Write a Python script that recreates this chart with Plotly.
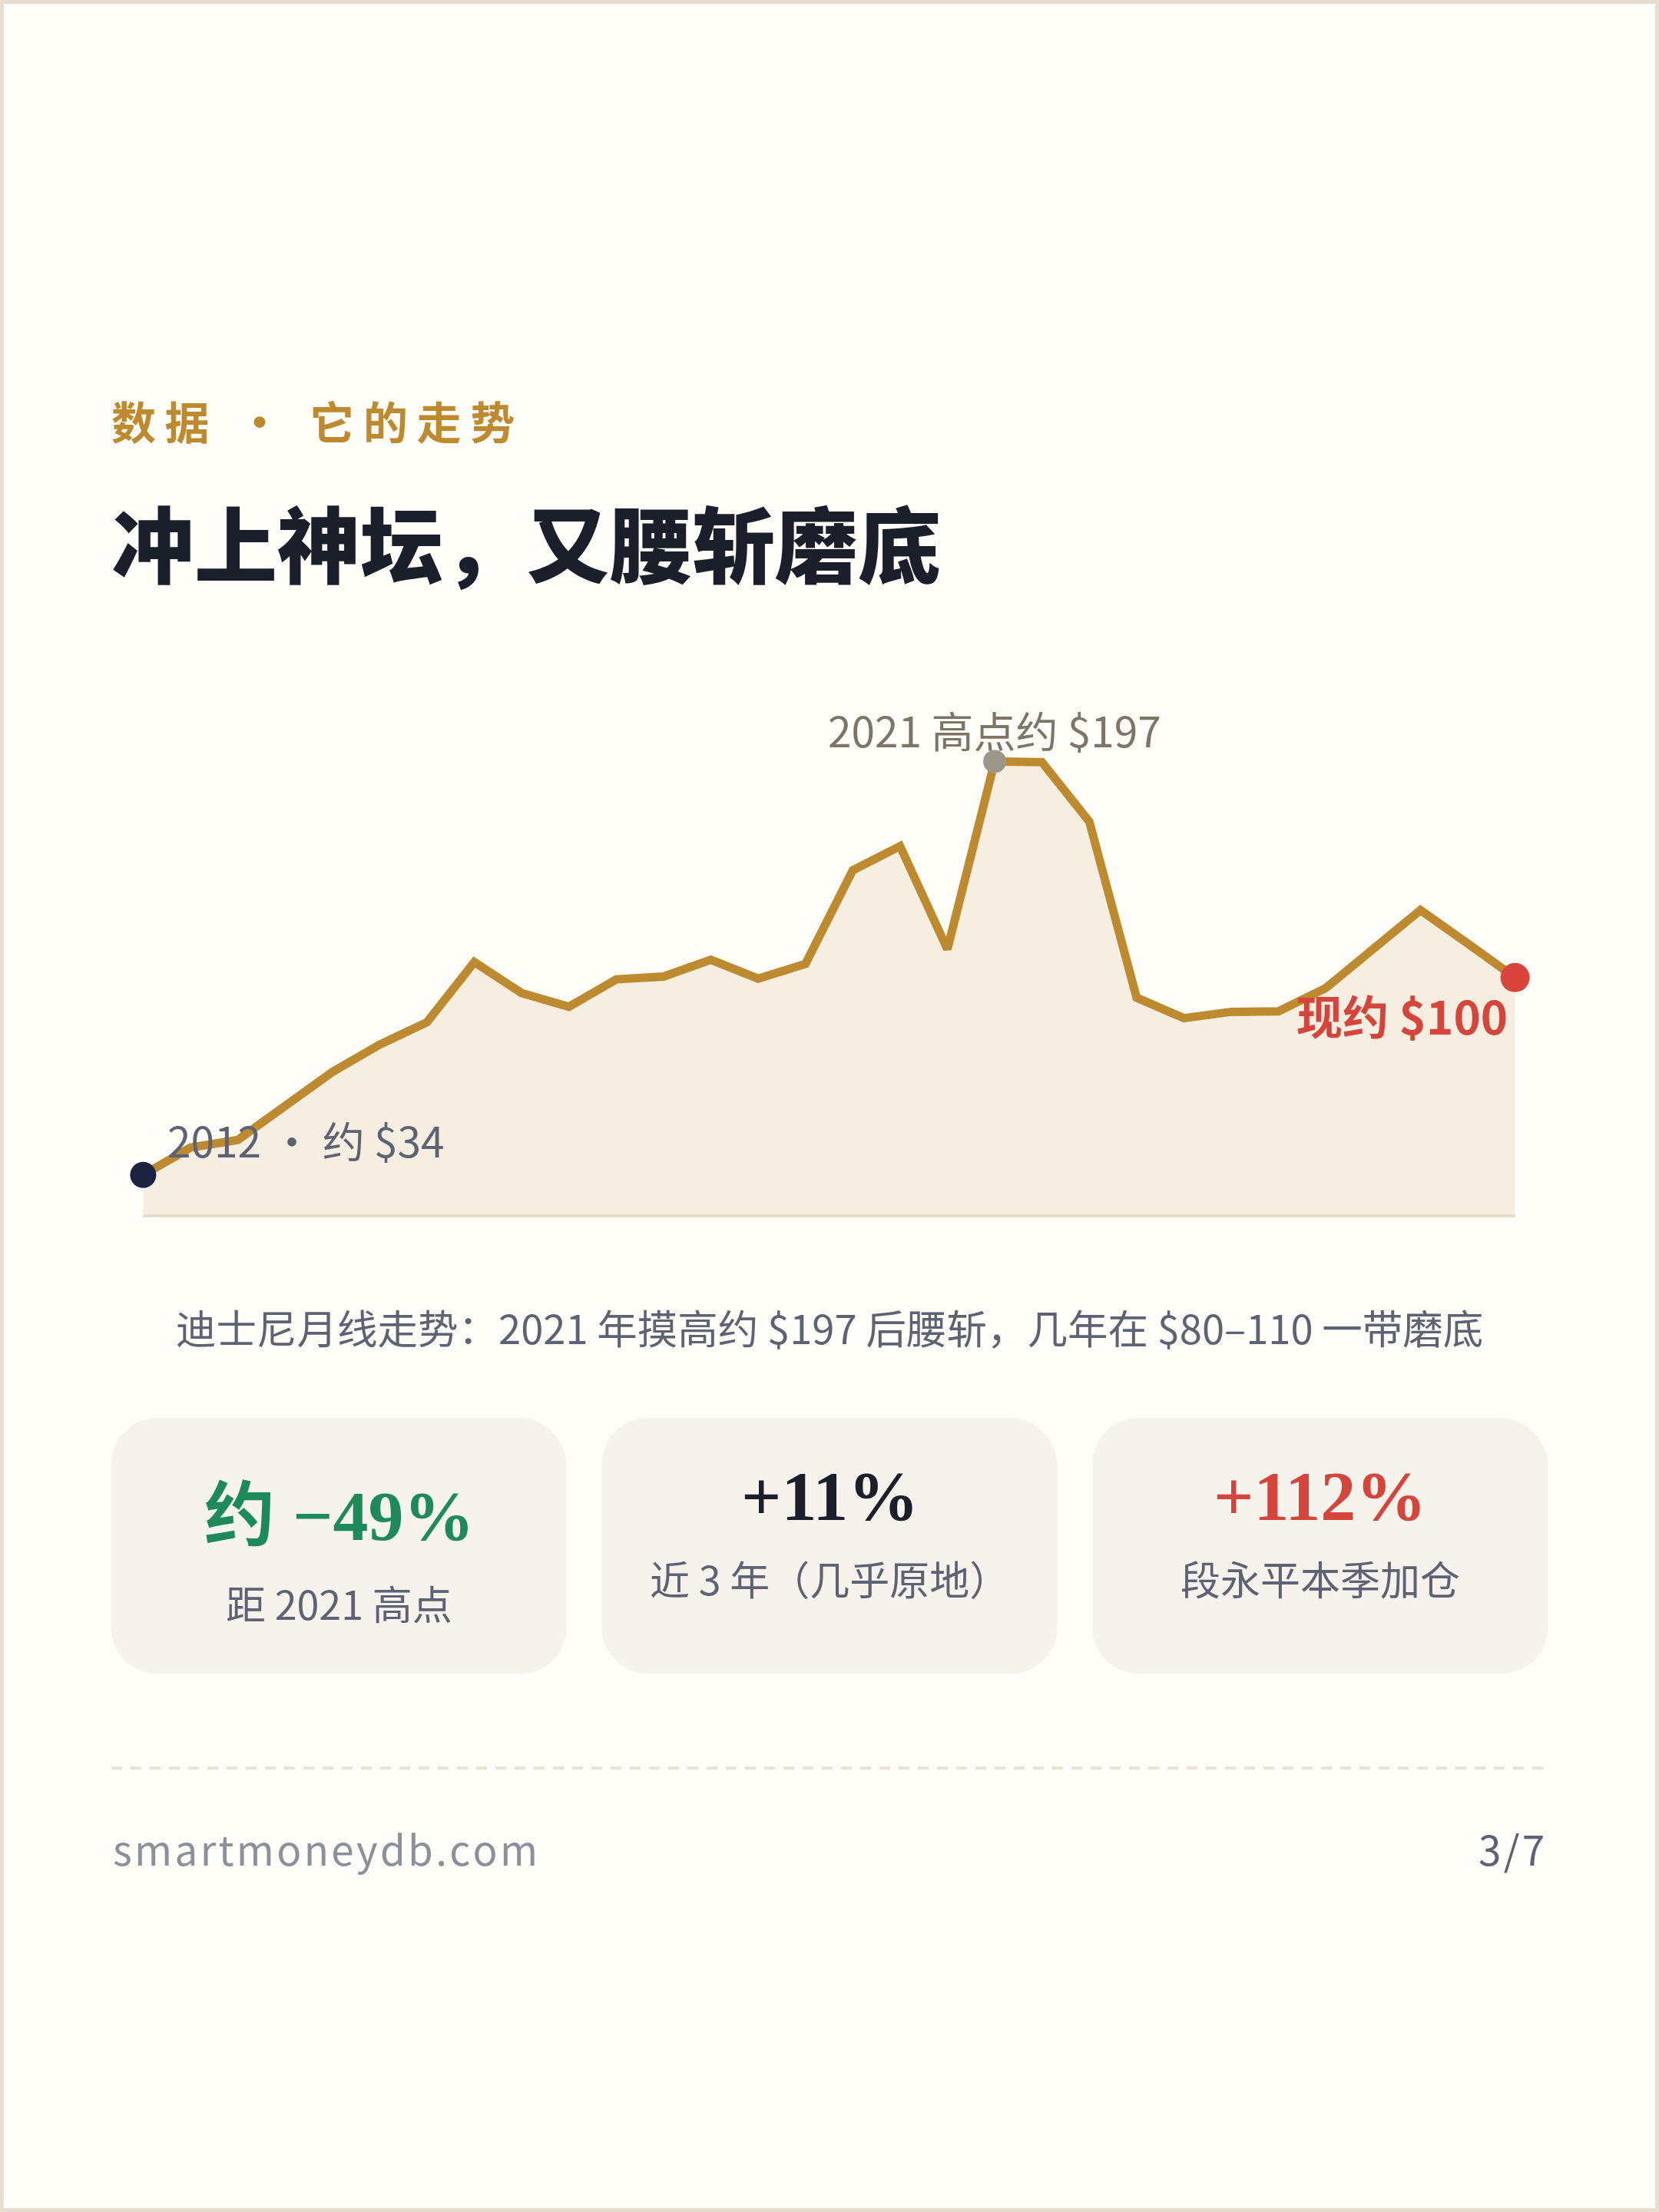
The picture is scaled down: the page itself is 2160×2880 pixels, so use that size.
import plotly.graph_objects as go

W, H = 2160, 2880

# half-year closes
periods = [f"{y}H{h}" for y in range(2012, 2027) for h in (1, 2)]
prices = [34, 44.8, 47.8, 61.1, 74.6, 85.4, 94.2, 117.9, 105.7, 100.3,
          111.1, 112.2, 118.8, 111.4, 117.2, 154.1, 163.6, 123.0, 197, 196.7,
          173.3, 103.9, 95.8, 98.3, 98.5, 107.7, 123.1, 138.4, 125.2, 111.8]

start_idx, peak_idx, end_idx = 0, 18, len(prices) - 1
start_label = "2012 · 约 $34"
peak_label = "2021 高点约 $197"
end_label = "现约 $100"

card_values = ["约 −49%", "+11%", "+112%"]
card_notes = ["距 2021 高点", "近 3 年（几乎原地）", "段永平本季加仓"]

kicker_left = "数据"
kicker_right = "它的走势"
title = "冲上神坛，又腰斩磨底"
caption = "迪士尼月线走势：2021 年摸高约 $197 后腰斩，几年在 $80–110 一带磨底"
site = "smartmoneydb.com"
page = "3/7"

SANS = "Noto Sans CJK SC"
SERIF = "Liberation Serif, Noto Sans CJK SC"
GOLD = "#bd8a30"
INK = "#1b1f2a"
SLATE = "#5d6373"
RED = "#d4453b"
GREEN = "#1e8a5c"


def px(x):
    return x / W


def py(y):
    return 1 - y / H


def rounded(x0, y0, x1, y1, r):
    L, R, T, B = px(x0), px(x1), py(y0), py(y1)
    rx, ry = r / W, r / H
    k = 0.45
    return (f"M{L+rx},{T} L{R-rx},{T} C{R-rx*k},{T} {R},{T-ry*(1-k)} {R},{T-ry} "
            f"L{R},{B+ry} C{R},{B+ry*k} {R-rx*k},{B} {R-rx},{B} "
            f"L{L+rx},{B} C{L+rx*k},{B} {L},{B+ry*k} {L},{B+ry} "
            f"L{L},{T-ry} C{L},{T-ry*k} {L+rx*k},{T} {L+rx},{T} Z")


def spaced(s, sep="\u2009"):
    return sep.join(s)


fig = go.Figure()

fig.add_trace(go.Scatter(
    x=periods, y=prices, mode="lines",
    line=dict(color=GOLD, width=11, shape="linear"),
    fill="tozeroy", fillcolor="#f6efe1",
    hoverinfo="skip", cliponaxis=False,
))

fig.add_trace(go.Scatter(
    x=[periods[start_idx], periods[peak_idx], periods[end_idx]],
    y=[prices[start_idx], prices[peak_idx], prices[end_idx]],
    mode="markers",
    marker=dict(color=["#1c2340", "#9b968a", "#d9443c"], size=[34, 30, 38],
                opacity=1, line=dict(width=0)),
    hoverinfo="skip", cliponaxis=False,
))

kicker = spaced(kicker_left) + " \u2009\u2009·\u2009\u2009 " + spaced(kicker_right)

annotations = [
    dict(x=periods[peak_idx], y=prices[peak_idx], text=peak_label, xref="x", yref="y",
         xanchor="center", yanchor="middle", yshift=42, showarrow=False,
         font=dict(family=SANS, size=55, color="#7d7567")),
    dict(x=periods[start_idx], y=prices[start_idx], text=start_label,
         xref="x", yref="y",
         xanchor="left", yanchor="middle", xshift=30, yshift=47, showarrow=False,
         font=dict(family=SANS, size=55, color=SLATE)),
    dict(x=periods[end_idx], y=prices[end_idx], text=f"<b>{end_label}</b>", xref="x", yref="y",
         xanchor="right", yanchor="middle", xshift=-8, yshift=-48, showarrow=False,
         font=dict(family=SANS, size=60, color=RED)),
    dict(x=px(143), y=py(547), text=f"<b>{kicker}</b>",
         xref="paper", yref="paper", xanchor="left", yanchor="middle", showarrow=False,
         font=dict(family=SANS, size=58, color=GOLD)),
    dict(x=px(143), y=py(704), text=title, xref="paper", yref="paper",
         xanchor="left", yanchor="middle", showarrow=False,
         font=dict(family=SANS, size=108, color=INK, weight=900)),
    dict(x=px(1080), y=py(1727), text=caption, xref="paper", yref="paper",
         xanchor="center", yanchor="middle", showarrow=False,
         font=dict(family=SANS, size=52.5, color=SLATE)),
    dict(x=px(145), y=py(2406), text=spaced(site, "\u200a"), xref="paper", yref="paper",
         xanchor="left", yanchor="middle", showarrow=False,
         font=dict(family=SANS, size=53, color="#8b909b")),
    dict(x=px(2013), y=py(2406), text=spaced(page, "\u200a"), xref="paper", yref="paper",
         xanchor="right", yanchor="middle", showarrow=False,
         font=dict(family=SANS, size=53, color=SLATE)),
]

shapes = [
    dict(type="rect", xref="paper", yref="paper", x0=0, y0=0, x1=1, y1=1,
         line=dict(color="#e6dfd0", width=10), fillcolor="rgba(0,0,0,0)", layer="above"),
    dict(type="line", xref="paper", yref="paper", x0=px(145), x1=px(2013),
         y0=py(2302), y1=py(2302), line=dict(color="#e8e2d6", width=4, dash="14px,11px")),
]

card_left, card_right, gap = 145, 2015, 46
card_w = (card_right - card_left - 2 * gap) / 3
card_top, card_bot = 1846, 2179
value_colors = [GREEN, INK, RED]
value_y = [1974, 1948, 1948]
note_y = [2086, 2054, 2054]
for i in range(3):
    x0 = card_left + i * (card_w + gap)
    x1 = x0 + card_w
    cx = (x0 + x1) / 2
    shapes.append(dict(type="path", xref="paper", yref="paper",
                       path=rounded(x0, card_top, x1, card_bot, 60),
                       fillcolor="#f6f2ec", line=dict(width=0), layer="below"))
    annotations.append(dict(x=px(cx), y=py(value_y[i]), text=f"<b>{card_values[i]}</b>",
                            xref="paper", yref="paper", xanchor="center", yanchor="middle",
                            showarrow=False,
                            font=dict(family=SERIF, size=92, color=value_colors[i])))
    annotations.append(dict(x=px(cx), y=py(note_y[i]), text=card_notes[i],
                            xref="paper", yref="paper", xanchor="center", yanchor="middle",
                            showarrow=False,
                            font=dict(family=SANS, size=52, color=SLATE)))

fig.update_layout(
    width=W, height=H,
    margin=dict(l=0, r=0, t=0, b=0),
    paper_bgcolor="#fefdf8", plot_bgcolor="rgba(0,0,0,0)",
    showlegend=False,
    xaxis=dict(domain=[px(186.4), px(1972.6)], range=[0, len(prices) - 1],
               showgrid=False, zeroline=False, showticklabels=False, ticks="",
               showline=True, linecolor="#e5dccb", linewidth=4, fixedrange=True),
    yaxis=dict(domain=[py(1581), py(960)], range=[18.5, 206.5],
               showgrid=False, zeroline=False, showticklabels=False, ticks="",
               showline=False, fixedrange=True),
    annotations=annotations,
    shapes=shapes,
)

fig.write_html("out.html", config={"displayModeBar": False},
               post_script="document.body.style.margin='0';")
